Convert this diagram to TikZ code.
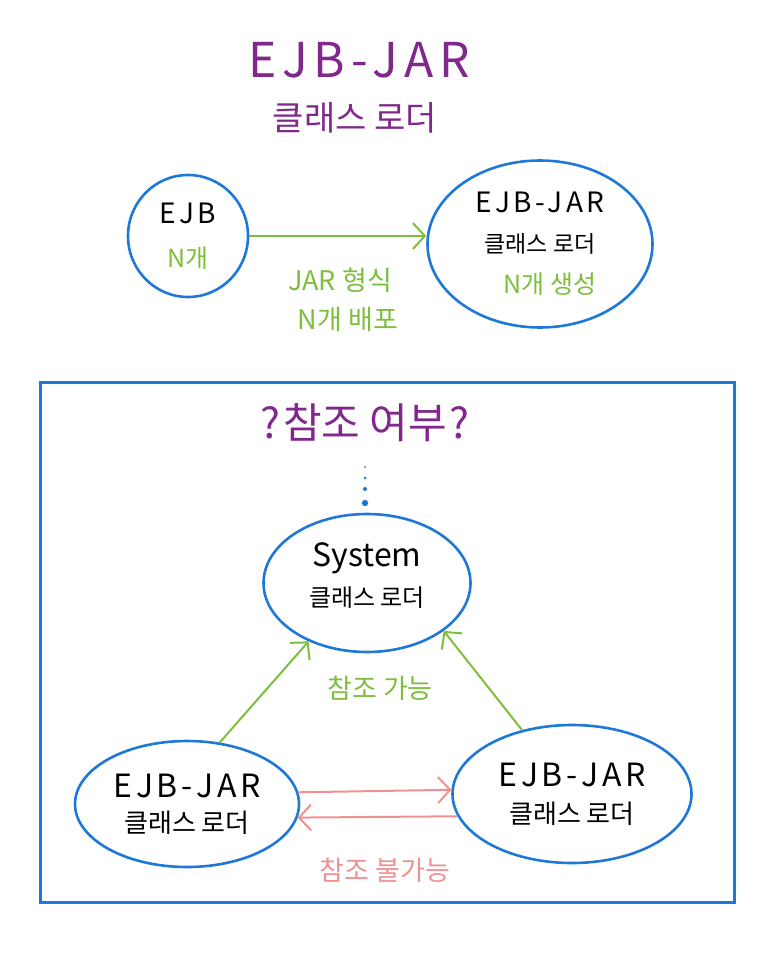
\documentclass[tikz,border=0pt]{standalone}
\usepackage{fontspec}
\setmainfont{Noto Sans CJK KR}
\newfontfamily\wfont[LetterSpace=12]{Noto Sans CJK KR}
\usetikzlibrary{arrows.meta,shapes.geometric}
\definecolor{purp}{RGB}{128,40,140}
\definecolor{grn}{RGB}{125,190,60}
\definecolor{blu}{RGB}{30,120,215}
\definecolor{pnk}{RGB}{240,145,145}
\newcommand\fs[1]{\fontsize{#1}{#1}\selectfont}
\tikzset{
  ldr/.style={ellipse,draw=blu,line width=2.6pt,inner sep=0pt,align=center},
  arr/.style={line width=2pt,-{Straight Barb[length=12pt,width=26pt]}},
  lbl/.style={align=center,inner sep=0pt},
}

\begin{document}
\begin{tikzpicture}[x=1pt,y=-1pt]
  \useasboundingbox (0,0) rectangle (768,960);
  \node (ttl) [purp,lbl] at (359,60) {\wfont\fs{48}EJB-JAR};
  \node (ttl2) [purp,lbl] at (355,118) {\fs{34}클래스 로더};
  \node (ejb) [ldr,minimum width=120pt,minimum height=122pt] at (188,236)
    {{\wfont\fs{28}EJB}\\[22pt]{\color{grn}\fs{25}N개}};
  \node (jarA) [ldr,minimum width=225pt,minimum height=167pt] at (540,244)
    {{\wfont\fs{28}EJB-JAR}\\[19pt]{\fs{23}클래스 로더}\\[18pt]{\color{grn}\fs{25}\hspace{20pt}N개 생성}};
  \draw[arr,grn] (ejb.east) -- (ejb.east -| jarA.west);
  \node (dep) [grn,lbl] at (340,300) {{\fs{27}JAR 형식}\\[14pt]{\fs{27}\hspace{16pt}N개 배포}};
  \draw[blu,line width=3pt] (40,382) rectangle (734,902);
  \node (q) [purp,lbl] at (365,423) {\fs{42}?\hspace{3pt}참조 여부\hspace{3pt}?};
  \foreach \y/\r in {467/1,478/1.5,489/2,503/3.2}
    \fill[blu] (365,\y) circle (\r pt);
  \node (sys) [ldr,minimum width=207pt,minimum height=138pt,text depth=17pt] at (367,583)
    {{\fs{32}System}\\[12pt]{\fs{24}클래스 로더}};
  \node (jarL) [ldr,minimum width=224pt,minimum height=126pt] at (187,804)
    {{\wfont\fs{32}EJB-JAR}\\[12pt]{\fs{26}클래스 로더}};
  \node (jarR) [ldr,minimum width=239pt,minimum height=138pt] at (572,794)
    {{\wfont\fs{32}EJB-JAR}\\[14pt]{\fs{26}클래스 로더}};
  \draw[arr,grn] (jarL.62) -- (sys.225);
  \draw[arr,grn] (jarR.128) -- (sys.-32);
  \node (ok) [grn,lbl] at (380,688) {\fs{27}참조 가능};
  \draw[arr,pnk] (jarL.6) -- (jarR.178);
  \draw[arr,pnk] (jarR.191) -- (jarL.-7);
  \node (no) [pnk,lbl] at (385,870) {\fs{27}참조 불가능};
\end{tikzpicture}
\end{document}
